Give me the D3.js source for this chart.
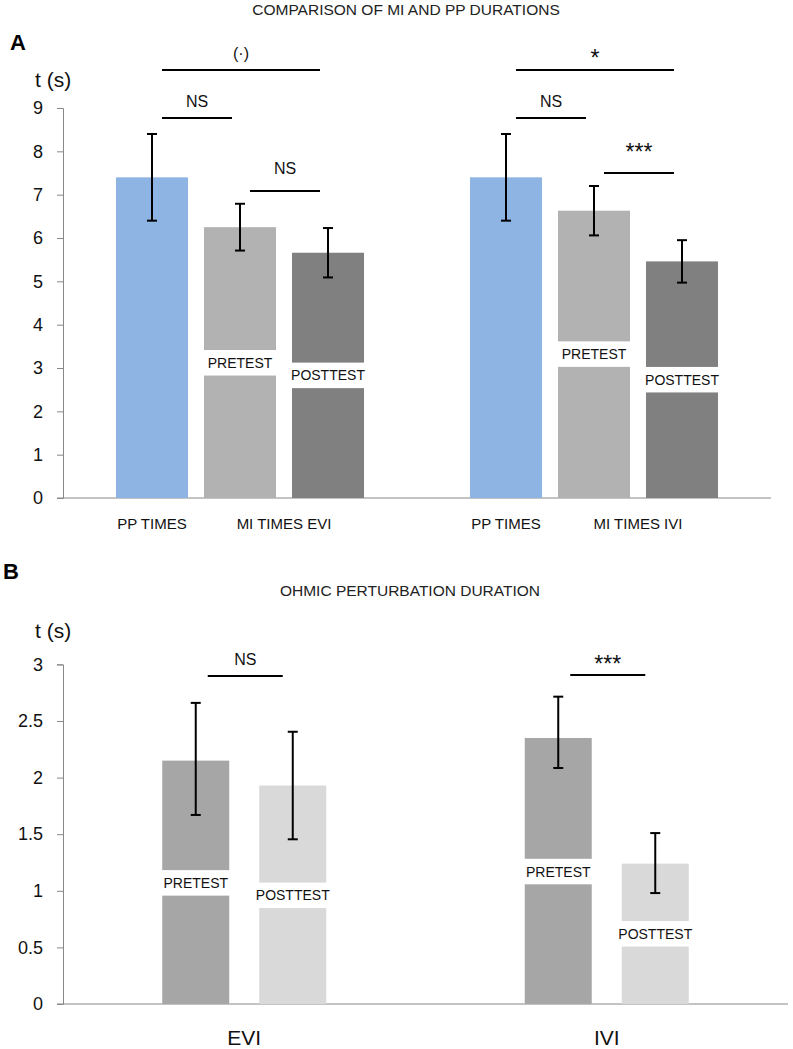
<!DOCTYPE html>
<html><head><meta charset="utf-8">
<script src="https://cdn.jsdelivr.net/npm/d3@7"></script>
<style>
html,body{margin:0;padding:0;background:#fff;}
text{font-family:"Liberation Sans",Arial,sans-serif;}
</style></head>
<body>
<svg id="chart" width="793" height="1049"></svg>
<script>
// ---------- DATA ----------
const titleA = "COMPARISON OF MI AND PP DURATIONS";
const titleB = "OHMIC PERTURBATION DURATION";
const yLabel = "t (s)";

// Panel A
const categoriesA = ["EVI", "IVI"];
const seriesA = ["PP", "PRETEST", "POSTTEST"];
const ppTimesA = [7.4, 7.4];
const ppErrA = [1.0, 1.0];
const preTimesA = [6.25, 6.63];
const preErrA = [0.54, 0.57];
const postTimesA = [5.66, 5.46];
const postErrA = [0.57, 0.49];
const preLabelAtA = [3.12, 3.32];   // value where the PRETEST tag sits
const postLabelAtA = [2.83, 2.73];  // value where the POSTTEST tag sits
const xLabelsA = [["PP TIMES", "MI TIMES EVI"], ["PP TIMES", "MI TIMES IVI"]];
const yTicksA = [0,1,2,3,4,5,6,7,8,9];
// significance brackets: [category, fromSeries, toSeries, lineValue, textValue, label]
const sigA = [
  [0, 0, 2, 9.877, 10.13, "(·)"],
  [0, 0, 1, 8.77, 9.02, "NS"],
  [0, 1, 2, 7.085, 7.48, "NS"],
  [1, 0, 2, 9.877, 9.98, "*"],
  [1, 0, 1, 8.77, 9.02, "NS"],
  [1, 1, 2, 7.5, 7.81, "***"]
];

// Panel B
const categoriesB = ["EVI", "IVI"];
const seriesB = ["PRETEST", "POSTTEST"];
const preTimesB = [2.15, 2.35];
const preErrHighB = [0.51, 0.365];
const preErrLowB = [0.48, 0.265];
const postTimesB = [1.93, 1.24];
const postErrHighB = [0.475, 0.27];
const postErrLowB = [0.475, 0.26];
const preLabelAtB = [1.07, 1.17];
const postLabelAtB = [0.96, 0.62];
const yTicksB = [0, 0.5, 1, 1.5, 2, 2.5, 3];
const sigB = [
  [0, 0, 1, 2.897, 2.995, "NS"],
  [1, 0, 1, 2.906, 2.937, "***"]
];

// ---------- DRAWING ----------
const svg = d3.select("#chart");
const axisColor = "#888888";
const colorsA = ["#8EB4E3", "#B2B2B2", "#808080"];
const colorsB = ["#A6A6A6", "#D9D9D9"];

svg.append("text").attr("x", 406).attr("y", 15).attr("text-anchor", "middle")
  .attr("font-size", 15.5).attr("fill", "#222").text(titleA);
svg.append("text").attr("x", 410).attr("y", 596).attr("text-anchor", "middle")
  .attr("font-size", 15.5).attr("fill", "#222").text(titleB);
svg.append("text").attr("x", 10).attr("y", 50).attr("font-size", 22)
  .attr("font-weight", "bold").text("A");
svg.append("text").attr("x", 3).attr("y", 579).attr("font-size", 22)
  .attr("font-weight", "bold").text("B");

function drawPanel(cfg) {
  const g = svg.append("g");
  const y = d3.scaleLinear().domain(cfg.yDomain).range([cfg.y0, cfg.yTop]);
  const x0 = d3.scaleBand().domain(cfg.categories.map((d, i) => i))
    .range([cfg.xLeft, cfg.xRight]).padding(0);
  const x1 = d3.scaleBand().domain(cfg.series.map((d, i) => i))
    .range([0, x0.bandwidth()]).paddingInner(cfg.pIn).paddingOuter(cfg.pOut);
  const bw = x1.bandwidth();

  // y axis
  const ax = g.append("g").attr("transform", `translate(${cfg.xLeft},0)`)
    .call(d3.axisLeft(y).tickValues(cfg.ticks).tickSize(6).tickSizeOuter(6)
      .tickPadding(14).tickFormat(d => String(d)));
  ax.select(".domain").attr("stroke", axisColor);
  ax.selectAll(".tick line").attr("stroke", axisColor);
  ax.selectAll(".tick text").attr("font-size", cfg.tickFont).attr("fill", "#111")
    .style("font-family", "'Liberation Sans', Arial, sans-serif");
  // baseline
  g.append("line").attr("x1", cfg.xLeft - 6).attr("x2", cfg.xAxisEnd)
    .attr("y1", y(0)).attr("y2", y(0)).attr("stroke", axisColor);

  // y label
  g.append("text").attr("x", 35).attr("y", cfg.yLabelY).attr("font-size", 21)
    .attr("fill", "#111").text(yLabel);

  // bars
  const bars = [];
  cfg.categories.forEach((c, ci) => {
    cfg.series.forEach((s, si) => {
      const d = cfg.data[si];
      bars.push({ci, si, v: d.values[ci], hi: d.hi[ci], lo: d.lo[ci],
        label: d.labelAt ? d.labelAt[ci] : null, name: s, color: cfg.colors[si],
        x: x0(ci) + x1(si)});
    });
  });
  g.selectAll("rect.bar").data(bars).join("rect").attr("class", "bar")
    .attr("x", d => d.x).attr("width", bw)
    .attr("y", d => y(d.v)).attr("height", d => y(0) - y(d.v))
    .attr("fill", d => d.color);

  // label boxes
  const lab = bars.filter(d => d.label != null);
  g.selectAll("rect.lab").data(lab).join("rect").attr("class", "lab")
    .attr("x", d => d.x - 1).attr("width", bw + 2)
    .attr("y", d => y(d.label) - 12.75).attr("height", 25.5).attr("fill", "#fff");
  g.selectAll("text.lab").data(lab).join("text").attr("class", "lab")
    .attr("x", d => d.x + bw / 2).attr("y", d => y(d.label) + 5)
    .attr("text-anchor", "middle").attr("font-size", 14).attr("fill", "#111")
    .text(d => d.name);

  // error bars
  const eb = g.selectAll("g.err").data(bars.filter(d => d.hi != null)).join("g").attr("class", "err")
    .attr("stroke", "#000").attr("stroke-width", 2);
  eb.append("line").attr("x1", d => d.x + bw / 2).attr("x2", d => d.x + bw / 2)
    .attr("y1", d => y(d.v + d.hi)).attr("y2", d => y(d.v - d.lo));
  eb.append("line").attr("x1", d => d.x + bw / 2 - 5).attr("x2", d => d.x + bw / 2 + 5)
    .attr("y1", d => y(d.v + d.hi)).attr("y2", d => y(d.v + d.hi));
  eb.append("line").attr("x1", d => d.x + bw / 2 - 5).attr("x2", d => d.x + bw / 2 + 5)
    .attr("y1", d => y(d.v - d.lo)).attr("y2", d => y(d.v - d.lo));

  // significance
  const cx = (ci, si) => x0(ci) + x1(si) + bw / 2;
  cfg.sig.forEach(([ci, a, b, lv, tv, txt]) => {
    const xa = cx(ci, a) + cfg.sigIn[0], xb = cx(ci, b) - cfg.sigIn[1];
    g.append("line").attr("x1", xa).attr("x2", xb).attr("y1", y(lv)).attr("y2", y(lv))
      .attr("stroke", "#000").attr("stroke-width", 2);
    g.append("text").attr("x", (xa + xb) / 2).attr("y", y(tv)).attr("text-anchor", "middle")
      .attr("font-size", txt.includes("*") ? 23 : 16).attr("fill", "#111").text(txt);
  });

  // category labels
  cfg.xLabels(g, x0, x1, bw, y);
}

drawPanel({
  yDomain: [0, 9], y0: 498, yTop: 108, xLeft: 63, xRight: 771, xAxisEnd: 771,
  categories: categoriesA, series: seriesA, pIn: 16 / 88, pOut: 0.602,
  ticks: yTicksA, tickFont: 18, yLabelY: 87, colors: colorsA, sigIn: [10, 8],
  data: [
    {values: ppTimesA, hi: ppErrA, lo: ppErrA},
    {values: preTimesA, hi: preErrA, lo: preErrA, labelAt: preLabelAtA},
    {values: postTimesA, hi: postErrA, lo: postErrA, labelAt: postLabelAtA}
  ],
  sig: sigA,
  xLabels: (g, x0, x1, bw) => {
    categoriesA.forEach((c, ci) => {
      g.append("text").attr("x", x0(ci) + x1(0) + bw / 2).attr("y", 529)
        .attr("text-anchor", "middle").attr("font-size", 15).attr("fill", "#111")
        .text(xLabelsA[ci][0]);
      g.append("text").attr("x", x0(ci) + (x1(1) + x1(2) + bw) / 2).attr("y", 529)
        .attr("text-anchor", "middle").attr("font-size", 15).attr("fill", "#111")
        .text(xLabelsA[ci][1]);
    });
  }
});

drawPanel({
  yDomain: [0, 3], y0: 1004, yTop: 664.4, xLeft: 63, xRight: 788, xAxisEnd: 788,
  categories: categoriesB, series: seriesB, pIn: 30 / 97, pOut: 1.023,
  ticks: yTicksB, tickFont: 18, yLabelY: 638, colors: colorsB, sigIn: [12, 10],
  data: [
    {values: preTimesB, hi: preErrHighB, lo: preErrLowB, labelAt: preLabelAtB},
    {values: postTimesB, hi: postErrHighB, lo: postErrLowB, labelAt: postLabelAtB}
  ],
  sig: sigB,
  xLabels: (g, x0) => {
    categoriesB.forEach((c, ci) => {
      g.append("text").attr("x", x0(ci) + x0.bandwidth() / 2).attr("y", 1045)
        .attr("text-anchor", "middle").attr("font-size", 21).attr("fill", "#111").text(c);
    });
  }
});
</script>
</body></html>
